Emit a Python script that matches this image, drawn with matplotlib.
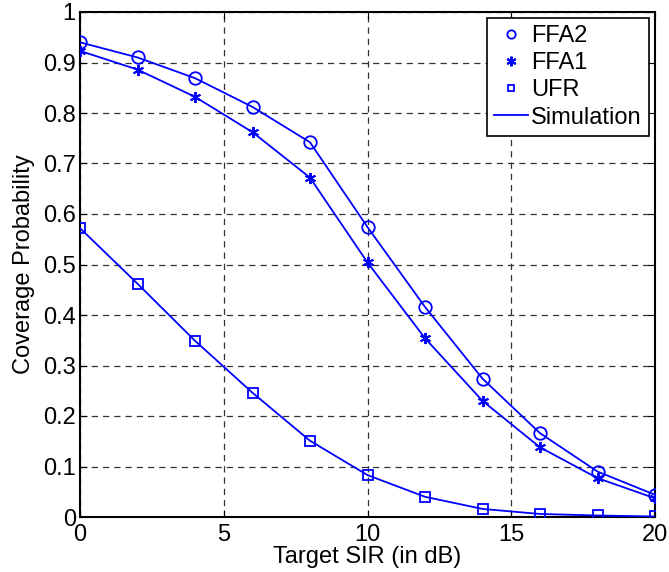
import numpy as np
import matplotlib.pyplot as plt
from matplotlib.lines import Line2D

plt.rcParams['font.family'] = ['Liberation Sans', 'DejaVu Sans']

# target SIR (dB)
sir = [0, 2, 4, 6, 8, 10, 12, 14, 16, 18, 20]

# analysis markers
ffa2 = [0.940, 0.910, 0.869, 0.812, 0.742, 0.574, 0.416, 0.274, 0.166, 0.090, 0.044]
ffa1 = [0.923, 0.886, 0.832, 0.762, 0.672, 0.504, 0.354, 0.230, 0.138, 0.077, 0.037]
ufr = [0.572, 0.462, 0.349, 0.246, 0.151, 0.083, 0.040, 0.016, 0.006, 0.003, 0.001]

# simulation curves
sim_ffa2 = [0.940, 0.910, 0.869, 0.812, 0.742, 0.574, 0.416, 0.274, 0.166, 0.090, 0.044]
sim_ffa1 = [0.923, 0.886, 0.832, 0.762, 0.672, 0.504, 0.354, 0.230, 0.138, 0.077, 0.037]
sim_ufr = [0.572, 0.462, 0.349, 0.246, 0.151, 0.083, 0.040, 0.016, 0.006, 0.003, 0.001]

blue = "#0000ff"
star = (6, 2, 0)

fig = plt.figure(figsize=(6.69, 5.72), dpi=100)
ax = fig.add_axes([80/669, 55/572, 575/669, 505/572])

for sim in [sim_ffa2, sim_ffa1, sim_ufr]:
    ax.plot(sir, sim, color=blue, lw=1.3, zorder=3)

ax.plot(sir, ffa2, ls="none", marker="o", ms=9, mfc="none", mec=blue, mew=1.3, zorder=4)
ax.plot(sir, ffa1, ls="none", marker=star, ms=8, color=blue, mew=1.4, zorder=4)
ax.plot(sir, ufr, ls="none", marker="s", ms=7, mfc="none", mec=blue, mew=1.3, zorder=4)

ax.set_xlim(0, 20)
ax.set_ylim(0, 1)
ax.set_xticks([0, 5, 10, 15, 20])
ax.set_yticks(np.arange(0, 1.01, 0.1))
ax.set_yticklabels(["0", "0.1", "0.2", "0.3", "0.4", "0.5", "0.6", "0.7", "0.8", "0.9", "1"])
ax.grid(True, color="#333333", ls=(0, (5, 4)), lw=0.9)
ax.tick_params(direction="in", top=True, right=True, labelsize=17, length=5)
ax.tick_params(axis="x", pad=5)
ax.tick_params(axis="y", pad=3)
for s in ax.spines.values():
    s.set_linewidth(1.5)

ax.set_xlabel("Target SIR (in dB)", fontsize=17, labelpad=0)
ax.set_ylabel("Coverage Probability", fontsize=17, labelpad=5.5)

handles = [
    Line2D([], [], ls="none", marker="o", ms=6, mfc="none", mec=blue, mew=1.3),
    Line2D([], [], ls="none", marker=star, ms=7, color=blue, mew=1.5),
    Line2D([], [], ls="none", marker="s", ms=5, mfc="none", mec=blue, mew=1.3),
    Line2D([], [], color=blue, lw=1.3),
]
leg = ax.legend(handles, ["FFA2", "FFA1", "UFR", "Simulation"], loc="upper right",
                fontsize=17, frameon=True, fancybox=False, edgecolor="black", framealpha=1,
                handlelength=1.45, handletextpad=0.15, borderpad=0.3, labelspacing=0.22,
                borderaxespad=0.25)
leg.get_frame().set_linewidth(1.2)

fig.savefig("out.png", dpi=100)
